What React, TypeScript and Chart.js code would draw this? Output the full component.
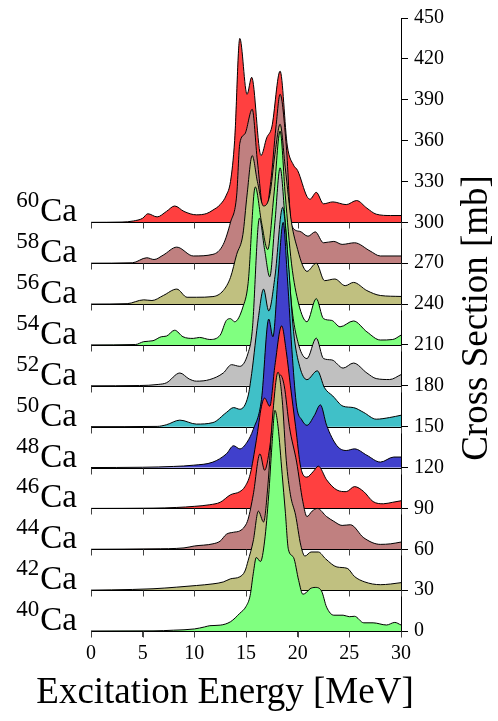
import { useEffect, useRef } from "react";
import { Chart, registerables } from "chart.js";
Chart.register(...registerables);

// Isotope mass numbers (bottom to top) and their baseline offsets [mb]
const massNumbers = ["40", "42", "44", "46", "48", "50", "52", "54", "56", "58", "60"];
const offsets = [0, 30, 60, 90, 120, 150, 180, 210, 240, 270, 300];
const fillColors = ["#80ff80", "#c0c080", "#c08080", "#ff4040", "#4040cc", "#40c0c8", "#c0c0c0", "#80ff80", "#c0c080", "#c08080", "#ff4040"];

const xTicks = [0, 5, 10, 15, 20, 25, 30];
const yTicks = [0, 30, 60, 90, 120, 150, 180, 210, 240, 270, 300, 330, 360, 390, 420, 450];

// [Excitation energy MeV, cross section mb]
const ca40 = [[0,0],[6,0.1],[8,0.6],[10,1.5],[11,3],[11.5,3.9],[12.5,4.3],[13.5,6.8],[14.4,13],[15,18],[15.4,26],[15.7,42],[16.0,54],[16.4,51],[16.8,66],[17.2,100],[17.5,135],[17.8,162],[18.1,150],[18.5,115],[18.8,88],[19.1,60],[19.6,54],[20.1,37],[20.5,27],[20.8,28],[21.2,31],[21.7,32],[22.3,29.5],[22.8,17.5],[23.5,11.6],[24.4,11.6],[25.0,10.5],[25.5,10.8],[26.4,6],[27.3,6],[28.6,4.4],[29.4,6.3],[30,4.4]];
const ca42 = [[0,0],[2,0.2],[6,1],[8.3,2.2],[10.2,3.4],[11.8,4.6],[12.8,6],[13.5,8.3],[14.4,9.8],[14.9,14],[15.2,21.5],[15.7,36],[16.2,58],[16.7,50],[17.1,75],[17.6,130],[18.1,160],[18.5,140],[18.9,95],[19.3,70],[19.8,55],[20.3,33],[20.7,25],[21.3,28],[22.0,28],[22.7,23],[23.8,17],[24.8,16],[25.5,10],[26.5,6],[28,4],[29,4.5],[30,5.5]];
const ca44 = [[0,0],[6,0.3],[9,1],[10,2.4],[11.8,4],[12.5,6],[13.1,11],[13.8,12.5],[14.4,13.5],[14.9,17],[15.2,22],[15.7,40],[16.35,70],[16.8,58],[17.3,75],[17.8,110],[18.3,128],[18.7,120],[19.2,90],[19.9,64],[20.5,35],[20.9,24],[21.4,28],[21.9,30],[22.8,24],[23.5,20.5],[24.3,17.5],[25.1,18],[26.4,8.4],[28,3.6],[29,4],[30,5.3]];
const ca46 = [[0,0],[6,0.2],[8.3,0.7],[10,1.5],[11.5,2.7],[12.5,4.5],[13.5,10],[14.4,12.3],[14.9,16],[15.4,25],[16,50],[16.5,75],[16.8,81],[17.3,75],[17.8,105],[18.45,134],[18.9,115],[19.3,90],[19.8,60],[20.3,30],[20.9,23],[21.5,27],[22.0,31],[22.8,21],[23.8,13.5],[24.7,12.3],[25.5,16],[26.4,12.3],[27.3,5],[28.3,3.4],[29.2,4.5],[30,5.6]];
const ca48 = [[0,0],[5,0.2],[8,0.8],[9.9,1.7],[11.8,4],[13.1,10],[13.8,16],[14.4,13.7],[15.1,18.6],[15.7,28],[16.5,50],[17.2,109],[17.6,96],[18.1,140],[18.6,180],[19.0,140],[19.5,80],[19.9,45],[20.4,35],[20.9,31],[21.6,38],[22.2,46],[22.8,31],[23.8,16],[24.7,12.5],[25.5,13.7],[26.7,9],[28,4],[29.3,7.7],[30,7.7]];
const ca50 = [[0,0],[6.4,0.2],[7.3,1.4],[8.6,4.8],[10.2,1.9],[11.8,3],[13.1,10.4],[13.8,14],[14.4,12.8],[15.2,22.5],[15.55,39],[16.2,80],[16.7,101],[17.2,85],[17.8,110],[18.55,161],[19.0,130],[19.6,70],[20.2,44],[20.9,34.5],[21.9,41],[22.6,28.5],[23.4,22.5],[24.4,15],[25.4,14],[26.4,10.4],[27.6,5.5],[28.9,6.7],[30,8.4]];
const ca52 = [[0,0],[4.7,0.2],[6.5,1],[7.3,2.2],[8.6,9.4],[9.5,5],[10.2,3.4],[11.5,4.6],[12.8,9.4],[13.6,15.5],[14.4,14.3],[15.2,24],[15.6,40],[16.3,123],[16.8,100],[17.3,80],[17.8,120],[18.3,160],[18.8,120],[19.4,60],[20.1,30],[20.9,20],[21.8,35],[22.5,20],[23.3,19],[24.4,13],[25.4,16.7],[26.7,9.4],[27.6,5.3],[28.9,4.6],[30,8.2]];
const ca54 = [[0,0],[4.3,0.3],[5.1,2.4],[6,3.1],[6.8,6],[7.3,6.5],[8.1,10.8],[8.9,6],[9.9,4.8],[10.5,5.5],[11.5,4],[12.5,7.2],[13.1,18],[13.5,19.3],[13.9,17],[14.7,27.8],[15.2,45],[15.9,116],[16.5,90],[17.1,70],[17.7,110],[18.3,157],[18.8,110],[19.4,60],[20.1,30],[20.9,17],[21.8,34],[22.5,19.3],[23.3,18],[24.1,13.3],[25.4,17.6],[26.7,9.6],[28,3.6],[29.2,4],[30,7.2]];
const ca56 = [[0,0],[3.5,0.3],[5.1,3.1],[5.9,2.6],[7,6.3],[8.3,11],[9.3,5],[10.2,5],[11.8,5.5],[12.8,9.9],[13.5,19.6],[14.1,36.5],[14.7,51],[15.1,80],[15.6,109],[16.1,90],[16.7,72],[17.3,80],[17.8,110],[18.3,132],[18.8,100],[19.4,60],[20.0,40],[20.5,28],[20.9,24],[21.8,30],[22.6,17.2],[23.6,18.4],[24.6,13.5],[25.4,15.9],[26.7,9.9],[28,6.3],[30,5.6]];
const ca58 = [[0,0],[4,0.3],[5.4,4],[6.1,2.7],[7,6],[8.3,11.8],[9.9,5.3],[11.8,6.5],[12.8,13.8],[13.5,30],[14.1,50],[14.4,88],[14.9,95],[15.6,113],[16.1,75],[16.8,34],[17.4,60],[17.9,100],[18.3,124],[18.9,86],[19.4,28],[20.2,23.4],[21,19.8],[21.7,23],[22.5,15],[23.5,16],[24.3,13.8],[25.5,15],[27,9],[28,5.3],[30,5.3]];
const ca60 = [[0,0],[3,0.2],[4.1,1],[5.0,3],[5.5,6.3],[6.4,4],[7.3,8],[8.1,12],[9,8],[10.2,5.5],[11.2,6.5],[11.8,9],[12.5,13],[13.1,20],[13.5,30],[13.9,60],[14.4,135],[15.1,94],[15.55,106.5],[16.45,49],[17.0,62],[17.5,70],[18.3,111],[19.0,56],[19.6,42],[20.0,38],[20.9,19],[21.2,17],[21.8,22],[22.5,13.6],[23.4,15],[24.7,13],[25.7,16],[26.7,10.4],[27.6,6],[29,5],[30,5]];

const spectra = [ca40, ca42, ca44, ca46, ca48, ca50, ca52, ca54, ca56, ca58, ca60];

const FONT = "'Liberation Serif', 'Times New Roman', serif";

const ridgePlugin = {
  id: "ridge",
  afterDatasetDraw(chart: any, args: any) {
    const i = args.index;
    const { ctx, scales } = chart;
    const xs = scales.x, ys = scales.y;
    const y = Math.round(ys.getPixelForValue(offsets[i])) + 0.5;
    ctx.save();
    ctx.strokeStyle = "#000";
    ctx.lineWidth = 1;
    ctx.beginPath();
    ctx.moveTo(xs.getPixelForValue(0), y);
    ctx.lineTo(xs.getPixelForValue(30), y);
    ctx.stroke();
    ctx.strokeStyle = "#444";
    ctx.beginPath();
    for (const t of xTicks) {
      const x = Math.round(xs.getPixelForValue(t)) + 0.5;
      ctx.moveTo(x, y);
      ctx.lineTo(x, y + 6);
    }
    ctx.stroke();
    ctx.restore();
  },
  afterDraw(chart: any) {
    const { ctx, scales } = chart;
    const ys = scales.y;
    ctx.save();
    ctx.fillStyle = "#000";
    massNumbers.forEach((m, i) => {
      const y = ys.getPixelForValue(offsets[i]) - 1;
      ctx.font = `33px ${FONT}`;
      ctx.textAlign = "right";
      ctx.textBaseline = "alphabetic";
      ctx.fillText("Ca", 77, y);
      const w = ctx.measureText("Ca").width;
      ctx.font = `23px ${FONT}`;
      ctx.fillText(m, 77 - w - 1, y - 14);
    });
    ctx.font = `37px ${FONT}`;
    ctx.textAlign = "center";
    ctx.textBaseline = "alphabetic";
    ctx.fillText("Excitation Energy [MeV]", 225, 703);
    ctx.translate(487, 318);
    ctx.rotate(-Math.PI / 2);
    ctx.fillText("Cross Section [mb]", 0, 0);
    ctx.restore();
  },
};

export default function App() {
  const ref = useRef<HTMLCanvasElement | null>(null);
  useEffect(() => {
    if (!ref.current) return;
    const datasets = spectra.map((s, i) => ({
      label: massNumbers[i] + "Ca",
      data: s.map(([e, v]) => ({ x: e, y: v + offsets[i] })),
      borderColor: "#000",
      borderWidth: 1,
      backgroundColor: fillColors[i],
      fill: { value: offsets[i] },
      pointRadius: 0,
      cubicInterpolationMode: "monotone" as const,
    }));
    const chart = new Chart(ref.current, {
      type: "line",
      data: { datasets },
      options: {
        animation: false,
        responsive: true,
        maintainAspectRatio: false,
        layout: { padding: { left: 91, top: 11, right: 0, bottom: 0 } },
        plugins: { legend: { display: false }, tooltip: { enabled: false } },
        scales: {
          x: {
            type: "linear",
            min: 0,
            max: 30,
            afterBuildTicks: (s: any) => { s.ticks = xTicks.map((v) => ({ value: v })); },
            ticks: { color: "#000", font: { family: FONT, size: 20 }, padding: 5, maxRotation: 0 },
            grid: { drawOnChartArea: false, drawTicks: true, tickLength: 6, color: "#444" },
            border: { display: true, color: "#000" },
            afterFit: (s: any) => { s.height = 90; },
          },
          y: {
            type: "linear",
            position: "right",
            min: 0,
            max: 450,
            afterBuildTicks: (s: any) => { s.ticks = yTicks.map((v) => ({ value: v })); },
            ticks: { color: "#000", font: { family: FONT, size: 20 }, padding: 6 },
            grid: { drawOnChartArea: false, drawTicks: true, tickLength: 7, color: "#000" },
            border: { display: true, color: "#000" },
            afterFit: (s: any) => { s.width = 97; },
          },
        },
      },
      plugins: [ridgePlugin],
    });
    return () => chart.destroy();
  }, []);
  return (
    <div style={{ position: "fixed", left: 0, top: 0, width: 498, height: 721, background: "#fff" }}>
      <canvas ref={ref} />
    </div>
  );
}
